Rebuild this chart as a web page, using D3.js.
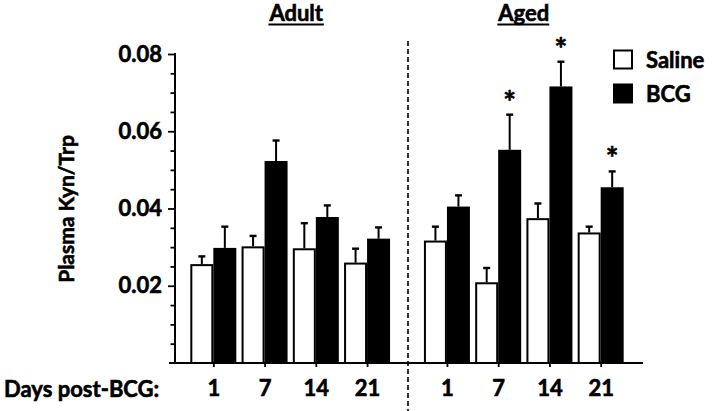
<!DOCTYPE html>
<html>
<head>
<meta charset="utf-8">
<script src="https://cdn.jsdelivr.net/npm/d3@7"></script>
<style>
  html, body { margin: 0; padding: 0; background: #fff; }
  svg { display: block; }
  text { font-family: Lato, "Open Sans", sans-serif; font-weight: bold; fill: #000; stroke: #000; stroke-width: 0.6px; }
</style>
</head>
<body>
<svg id="chart" width="714" height="411"></svg>
<script>
// ---- data ----
const groups = ["Adult", "Aged"];
const days = ["1", "7", "14", "21"];
const series = ["Saline", "BCG"];
const yTicks = [0.02, 0.04, 0.06, 0.08];

const adultSaline    = [0.0256, 0.0302, 0.0297, 0.0260];
const adultSalineErr = [0.0020, 0.0027, 0.0065, 0.0036];
const adultBCG       = [0.0298, 0.0523, 0.0378, 0.0322];
const adultBCGErr    = [0.0055, 0.0053, 0.0030, 0.0029];
const agedSaline     = [0.0317, 0.0209, 0.0375, 0.0338];
const agedSalineErr  = [0.0036, 0.0037, 0.0038, 0.0015];
const agedBCG        = [0.0405, 0.0552, 0.0716, 0.0455];
const agedBCGErr     = [0.0029, 0.0091, 0.0064, 0.0041];
const agedBCGSig     = [false, true, true, true];

const rows = [];
groups.forEach(g => {
  days.forEach((d, i) => {
    const sal = g === "Adult" ? adultSaline : agedSaline;
    const salE = g === "Adult" ? adultSalineErr : agedSalineErr;
    const bcg = g === "Adult" ? adultBCG : agedBCG;
    const bcgE = g === "Adult" ? adultBCGErr : agedBCGErr;
    rows.push({group: g, day: d, series: "Saline", value: sal[i], err: salE[i], sig: false});
    rows.push({group: g, day: d, series: "BCG", value: bcg[i], err: bcgE[i], sig: g === "Aged" && agedBCGSig[i]});
  });
});

// ---- scales ----
const svg = d3.select("#chart");
const y = d3.scaleLinear().domain([0, 0.08]).range([363, 54]);
const x0 = d3.scaleBand().domain(groups).range([187.7, 626.3]).paddingInner(0.1225).paddingOuter(0);
const x1 = d3.scaleBand().domain(days).range([0, x0.bandwidth()]).padding(0);
const x2 = d3.scaleBand().domain(series).range([x1.bandwidth() / 2 - 23, x1.bandwidth() / 2 + 23]).padding(0);
const colour = d3.scaleOrdinal().domain(series).range(["#fff", "#000"]);

// ---- divider ----
svg.append("line")
  .attr("x1", 408).attr("x2", 408).attr("y1", 41).attr("y2", 411)
  .attr("stroke", "#000").attr("stroke-width", 1.6).attr("stroke-dasharray", "5,3");

// ---- bars ----
const barX = d => x0(d.group) + x1(d.day) + x2(d.series);
const bw = x2.bandwidth();

// error bars (upward only)
const eb = svg.append("g").selectAll("g").data(rows).join("g");
eb.append("line")
  .attr("x1", d => barX(d) + bw / 2).attr("x2", d => barX(d) + bw / 2)
  .attr("y1", d => y(d.value)).attr("y2", d => y(d.value + d.err))
  .attr("stroke", "#000").attr("stroke-width", 2);
eb.append("line")
  .attr("x1", d => barX(d) + bw / 2 - 3.5).attr("x2", d => barX(d) + bw / 2 + 3.5)
  .attr("y1", d => y(d.value + d.err)).attr("y2", d => y(d.value + d.err))
  .attr("stroke", "#000").attr("stroke-width", 2.4);

svg.append("g").selectAll("rect").data(rows).join("rect")
  .attr("x", d => barX(d) + (d.series === "Saline" ? 1 : 0))
  .attr("width", d => d.series === "Saline" ? bw - 2 : bw)
  .attr("y", d => y(d.value) + (d.series === "Saline" ? 1 : 0))
  .attr("height", d => y(0) - y(d.value) - (d.series === "Saline" ? 1 : 0))
  .attr("fill", d => colour(d.series))
  .attr("stroke", "#000")
  .attr("stroke-width", d => d.series === "Saline" ? 2 : 0);

// significance stars
svg.append("g").selectAll("text").data(rows.filter(d => d.sig)).join("text")
  .attr("x", d => barX(d) + bw / 2)
  .attr("y", d => y(d.value + d.err) - 2)
  .attr("text-anchor", "middle")
  .style("font-size", "30px")
  .text("*");

// ---- y axis ----
const yMinor = d3.range(0.005, 0.0801, 0.005).filter(v => !yTicks.some(t => Math.abs(t - v) < 1e-9));
svg.append("g").attr("transform", "translate(175,0)")
  .call(d3.axisLeft(y).tickValues(yMinor).tickSize(4.5).tickFormat(""))
  .call(g => g.select(".domain").remove())
  .call(g => g.selectAll("line").attr("stroke-width", 1.8));
svg.append("g").attr("transform", "translate(175,0)")
  .call(d3.axisLeft(y).tickValues(yTicks).tickSize(7).tickPadding(6).tickFormat(d3.format(".2f")))
  .call(g => g.select(".domain").remove())
  .call(g => g.selectAll("line").attr("stroke-width", 1.8))
  .call(g => g.selectAll("text").style("font-size", "22px").style("font-family", "Lato, sans-serif").style("font-weight", "bold"));
svg.append("line").attr("x1", 175).attr("x2", 175).attr("y1", y(0.08) - 1).attr("y2", y(0) + 1)
  .attr("stroke", "#000").attr("stroke-width", 2);

// ---- x axis ----
const keys = rows.filter(d => d.series === "Saline").map(d => d.group + "|" + d.day);
const xc = d3.scaleOrdinal().domain(keys).range(keys.map(k => {
  const [g, d] = k.split("|");
  return x0(g) + x1(d) + x1.bandwidth() / 2;
}));
svg.append("g").attr("transform", "translate(0,363)")
  .call(d3.axisBottom(xc).tickSize(4).tickPadding(13).tickFormat(k => k.split("|")[1]))
  .call(g => g.select(".domain").remove())
  .call(g => g.selectAll("line").attr("stroke-width", 1.8))
  .call(g => g.selectAll("text").style("font-size", "22px").style("font-family", "Lato, sans-serif").style("font-weight", "bold"));
svg.append("line").attr("x1", 169).attr("x2", 643).attr("y1", 363).attr("y2", 363)
  .attr("stroke", "#000").attr("stroke-width", 2);

svg.append("text").attr("x", 4).attr("y", 397).style("font-size", "22px").text("Days post-BCG:");

// ---- y title ----
svg.append("text")
  .attr("transform", "translate(74,209) rotate(-90)")
  .attr("text-anchor", "middle")
  .style("font-size", "21px")
  .text("Plasma Kyn/Trp");

// ---- group titles ----
const titles = svg.append("g").selectAll("g").data(groups).join("g");
titles.append("text")
  .attr("x", d => x0(d) + x0.bandwidth() / 2 + (d === "Adult" ? 6 : 0))
  .attr("y", 21)
  .attr("text-anchor", "middle")
  .style("font-size", "22px")
  .text(d => d)
  .each(function(d) {
    const bb = this.getBBox();
    d3.select(this.parentNode).append("line")
      .attr("x1", bb.x).attr("x2", bb.x + bb.width)
      .attr("y1", 24.5).attr("y2", 24.5)
      .attr("stroke", "#000").attr("stroke-width", 2.2);
  });

// ---- legend ----
const legend = svg.append("g").selectAll("g").data(series).join("g")
  .attr("transform", (d, i) => `translate(613,${49.5 + i * 34})`);
legend.append("rect")
  .attr("x", d => d === "Saline" ? 1 : 0).attr("y", d => d === "Saline" ? 1 : 0)
  .attr("width", d => d === "Saline" ? 18 : 20).attr("height", d => d === "Saline" ? 18 : 20)
  .attr("fill", d => colour(d)).attr("stroke", "#000")
  .attr("stroke-width", d => d === "Saline" ? 2 : 0);
legend.append("text").attr("x", 33).attr("y", 18).style("font-size", "22px").text(d => d);
</script>
</body>
</html>
